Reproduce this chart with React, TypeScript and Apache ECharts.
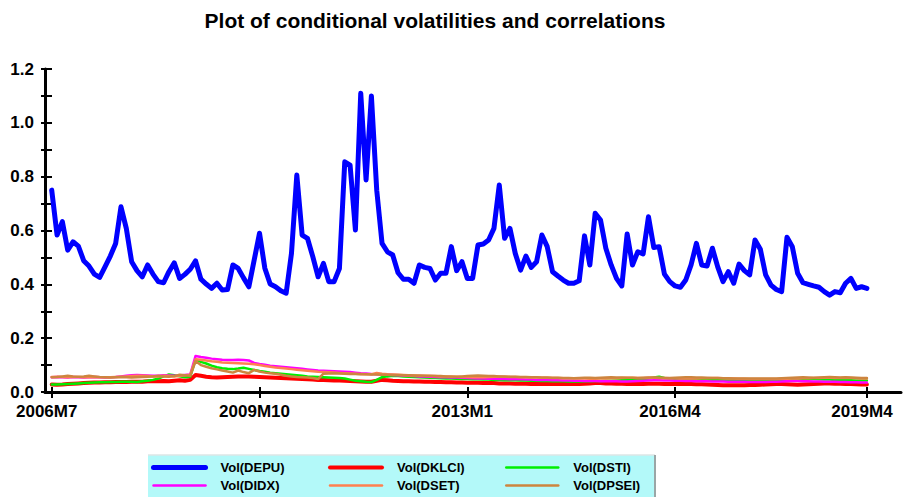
import React, { useEffect, useRef } from "react";
import * as echarts from "echarts";

// ---- data ----
const START_YEAR = 2006;
const START_MONTH = 7;
const months: string[] = [];
for (let k = 0; k < 160; k++) {
  const m = START_MONTH - 1 + k;
  months.push(`${START_YEAR + Math.floor(m / 12)}M${(m % 12) + 1}`);
}
const xTickIdx = [0, 39, 78, 117, 153];
const yTickValues = [0, 0.1, 0.2, 0.3, 0.4, 0.5, 0.6, 0.7, 0.8, 0.9, 1.0, 1.1, 1.2];
const yLabelValues = [0, 0.2, 0.4, 0.6, 0.8, 1.0, 1.2];

const seriesNames = ["Vol(DEPU)", "Vol(DKLCI)", "Vol(DSTI)", "Vol(DIDX)", "Vol(DSET)", "Vol(DPSEI)"];

const DEPU = [
  0.75, 0.583, 0.633, 0.527, 0.558, 0.542, 0.488, 0.468, 0.438, 0.426,
  0.465, 0.505, 0.552, 0.688, 0.608, 0.484, 0.451, 0.428, 0.472, 0.438,
  0.410, 0.406, 0.447, 0.480, 0.422, 0.437, 0.456, 0.487, 0.419, 0.401,
  0.385, 0.404, 0.379, 0.381, 0.472, 0.459, 0.424, 0.391, 0.49, 0.590,
  0.46, 0.401, 0.391, 0.376, 0.367, 0.515, 0.806, 0.583, 0.571, 0.503,
  0.428, 0.478, 0.410, 0.410, 0.459, 0.855, 0.843, 0.602, 1.110, 0.788,
  1.100, 0.750, 0.552, 0.521, 0.509, 0.443, 0.419, 0.419, 0.404, 0.472,
  0.463, 0.459, 0.416, 0.441, 0.441, 0.540, 0.451, 0.484, 0.422, 0.422,
  0.546, 0.550, 0.565, 0.608, 0.769, 0.571, 0.608, 0.515, 0.453, 0.505,
  0.463, 0.484, 0.583, 0.540, 0.447, 0.431, 0.416, 0.404, 0.404, 0.413,
  0.580, 0.472, 0.664, 0.639, 0.534, 0.472, 0.422, 0.394, 0.587, 0.472,
  0.521, 0.513, 0.651, 0.537, 0.540, 0.438, 0.410, 0.394, 0.389, 0.416,
  0.472, 0.552, 0.472, 0.468, 0.534, 0.465, 0.410, 0.447, 0.404, 0.475,
  0.451, 0.435, 0.565, 0.530, 0.435, 0.397, 0.381, 0.373, 0.575, 0.540,
  0.441, 0.406, 0.400, 0.394, 0.389, 0.373, 0.360, 0.373, 0.369, 0.404,
  0.422, 0.385, 0.391, 0.385,
];

const DKLCI = [
  0.028, 0.027, 0.028, 0.03, 0.031, 0.032, 0.033, 0.034, 0.035, 0.035,
  0.036, 0.036, 0.037, 0.037, 0.037, 0.038, 0.038, 0.038, 0.04, 0.04,
  0.04, 0.041, 0.04, 0.042, 0.044, 0.042, 0.045, 0.063, 0.06, 0.057,
  0.055, 0.054, 0.055, 0.056, 0.057, 0.058, 0.058, 0.058, 0.057, 0.056,
  0.055, 0.054, 0.053, 0.052, 0.051, 0.05, 0.049, 0.048, 0.047, 0.046,
  0.045, 0.045, 0.044, 0.043, 0.043, 0.042, 0.041, 0.04, 0.039, 0.038,
  0.038, 0.042, 0.045, 0.044, 0.042, 0.041, 0.04, 0.04, 0.039, 0.039,
  0.038, 0.038, 0.037, 0.037, 0.036, 0.036, 0.035, 0.035, 0.034, 0.034,
  0.034, 0.033, 0.033, 0.033, 0.032, 0.032, 0.032, 0.031, 0.031, 0.031,
  0.03, 0.03, 0.03, 0.03, 0.03, 0.03, 0.03, 0.03, 0.03, 0.03,
  0.031, 0.032, 0.033, 0.033, 0.032, 0.032, 0.031, 0.031, 0.03, 0.03,
  0.03, 0.03, 0.031, 0.031, 0.031, 0.03, 0.03, 0.03, 0.03, 0.03,
  0.03, 0.029, 0.029, 0.028, 0.027, 0.026, 0.025, 0.025, 0.025, 0.025,
  0.025, 0.026, 0.026, 0.027, 0.028, 0.029, 0.03, 0.03, 0.029, 0.028,
  0.027, 0.028, 0.029, 0.03, 0.031, 0.032, 0.032, 0.031, 0.031, 0.03,
  0.03, 0.029, 0.028, 0.028,
];

const DSTI = [
  0.028, 0.028, 0.029, 0.03, 0.031, 0.032, 0.033, 0.034, 0.035, 0.036,
  0.036, 0.037, 0.037, 0.038, 0.038, 0.038, 0.037, 0.04, 0.042, 0.045,
  0.05, 0.058, 0.065, 0.062, 0.058, 0.055, 0.057, 0.12, 0.112, 0.106,
  0.098, 0.092, 0.088, 0.086, 0.085, 0.087, 0.09, 0.086, 0.082, 0.078,
  0.075, 0.072, 0.07, 0.068, 0.066, 0.064, 0.062, 0.06, 0.058, 0.057,
  0.056, 0.055, 0.054, 0.053, 0.052, 0.05, 0.046, 0.042, 0.04, 0.038,
  0.037, 0.045, 0.055, 0.058, 0.06, 0.059, 0.058, 0.057, 0.056, 0.055,
  0.054, 0.053, 0.052, 0.051, 0.05, 0.05, 0.049, 0.048, 0.048, 0.047,
  0.047, 0.046, 0.046, 0.045, 0.045, 0.044, 0.044, 0.044, 0.043, 0.043,
  0.042, 0.042, 0.041, 0.041, 0.04, 0.04, 0.04, 0.039, 0.039, 0.039,
  0.04, 0.04, 0.041, 0.041, 0.042, 0.042, 0.043, 0.044, 0.044, 0.045,
  0.046, 0.048, 0.05, 0.054, 0.057, 0.052, 0.05, 0.049, 0.048, 0.047,
  0.047, 0.046, 0.046, 0.045, 0.045, 0.045, 0.044, 0.044, 0.044, 0.043,
  0.043, 0.043, 0.042, 0.042, 0.042, 0.042, 0.043, 0.043, 0.044, 0.045,
  0.046, 0.047, 0.048, 0.048, 0.047, 0.046, 0.046, 0.045, 0.045, 0.044,
  0.044, 0.043, 0.043, 0.043,
];

const DIDX = [
  0.055, 0.056, 0.055, 0.054, 0.056, 0.055, 0.054, 0.055, 0.056, 0.055,
  0.054, 0.055, 0.056, 0.058, 0.06, 0.062, 0.063, 0.062, 0.061, 0.06,
  0.06, 0.062, 0.061, 0.06, 0.061, 0.063, 0.065, 0.134, 0.13, 0.127,
  0.124, 0.122, 0.12, 0.119, 0.119, 0.12, 0.119, 0.117, 0.108, 0.104,
  0.101, 0.098, 0.096, 0.094, 0.092, 0.09, 0.088, 0.086, 0.084, 0.082,
  0.08, 0.079, 0.078, 0.077, 0.076, 0.075, 0.074, 0.072, 0.07, 0.069,
  0.067, 0.066, 0.065, 0.064, 0.063, 0.062, 0.061, 0.06, 0.059, 0.058,
  0.058, 0.057, 0.056, 0.055, 0.055, 0.054, 0.054, 0.053, 0.052, 0.051,
  0.05, 0.05, 0.049, 0.049, 0.048, 0.048, 0.047, 0.047, 0.047, 0.046,
  0.046, 0.045, 0.045, 0.045, 0.044, 0.044, 0.043, 0.043, 0.042, 0.042,
  0.041, 0.041, 0.041, 0.04, 0.04, 0.04, 0.04, 0.039, 0.039, 0.04,
  0.041, 0.042, 0.043, 0.044, 0.044, 0.043, 0.043, 0.042, 0.042, 0.041,
  0.041, 0.04, 0.04, 0.04, 0.039, 0.039, 0.039, 0.038, 0.038, 0.038,
  0.038, 0.037, 0.037, 0.037, 0.037, 0.038, 0.038, 0.039, 0.04, 0.041,
  0.041, 0.04, 0.04, 0.039, 0.039, 0.038, 0.038, 0.038, 0.037, 0.037,
  0.036, 0.036, 0.035, 0.035,
];

const DSET = [
  0.056, 0.057, 0.056, 0.055, 0.056, 0.056, 0.055, 0.055, 0.056, 0.055,
  0.055, 0.055, 0.056, 0.057, 0.058, 0.059, 0.06, 0.06, 0.059, 0.058,
  0.058, 0.06, 0.059, 0.058, 0.06, 0.062, 0.064, 0.122, 0.12, 0.117,
  0.114, 0.112, 0.11, 0.109, 0.108, 0.107, 0.106, 0.105, 0.103, 0.1,
  0.097, 0.094, 0.091, 0.089, 0.087, 0.085, 0.083, 0.081, 0.079, 0.077,
  0.075, 0.074, 0.073, 0.072, 0.071, 0.07, 0.069, 0.068, 0.067, 0.066,
  0.066, 0.071, 0.068, 0.066, 0.065, 0.064, 0.063, 0.062, 0.061, 0.06,
  0.06, 0.059, 0.059, 0.058, 0.058, 0.057, 0.057, 0.056, 0.056, 0.055,
  0.055, 0.055, 0.056, 0.057, 0.058, 0.057, 0.056, 0.056, 0.055, 0.055,
  0.054, 0.054, 0.053, 0.053, 0.052, 0.052, 0.051, 0.051, 0.05, 0.05,
  0.05, 0.049, 0.049, 0.05, 0.05, 0.051, 0.051, 0.052, 0.053, 0.053,
  0.052, 0.052, 0.053, 0.053, 0.052, 0.052, 0.051, 0.051, 0.05, 0.05,
  0.05, 0.05, 0.051, 0.051, 0.052, 0.052, 0.051, 0.05, 0.05, 0.049,
  0.049, 0.048, 0.048, 0.048, 0.048, 0.048, 0.048, 0.049, 0.049, 0.05,
  0.05, 0.051, 0.051, 0.052, 0.052, 0.053, 0.053, 0.052, 0.052, 0.053,
  0.052, 0.051, 0.05, 0.05,
];

const DPSEI = [
  0.055, 0.056, 0.058, 0.06, 0.058, 0.057, 0.058, 0.06, 0.058, 0.056,
  0.055, 0.054, 0.055, 0.056, 0.055, 0.054, 0.055, 0.056, 0.057, 0.058,
  0.06, 0.058, 0.057, 0.059, 0.064, 0.062, 0.06, 0.115, 0.1, 0.094,
  0.088, 0.084, 0.08, 0.076, 0.072, 0.08, 0.074, 0.07, 0.082, 0.076,
  0.072, 0.07, 0.068, 0.064, 0.06, 0.058, 0.056, 0.055, 0.054, 0.052,
  0.048, 0.068, 0.069, 0.07, 0.069, 0.068, 0.067, 0.067, 0.066, 0.066,
  0.065, 0.065, 0.064, 0.064, 0.063, 0.063, 0.062, 0.062, 0.061, 0.061,
  0.06, 0.06, 0.059, 0.059, 0.058, 0.058, 0.057, 0.058, 0.059, 0.06,
  0.061, 0.06, 0.059, 0.059, 0.058, 0.058, 0.057, 0.057, 0.056, 0.056,
  0.055, 0.055, 0.054, 0.054, 0.053, 0.053, 0.052, 0.052, 0.051, 0.052,
  0.053, 0.053, 0.052, 0.053, 0.054, 0.055, 0.054, 0.054, 0.053, 0.053,
  0.052, 0.053, 0.054, 0.054, 0.053, 0.052, 0.052, 0.053, 0.054, 0.055,
  0.055, 0.054, 0.054, 0.053, 0.052, 0.052, 0.051, 0.051, 0.05, 0.05,
  0.05, 0.05, 0.05, 0.05, 0.05, 0.05, 0.05, 0.051, 0.052, 0.053,
  0.054, 0.055, 0.054, 0.053, 0.054, 0.055, 0.056, 0.055, 0.054, 0.055,
  0.054, 0.053, 0.052, 0.052,
];

const seriesValues = [DEPU, DKLCI, DSTI, DIDX, DSET, DPSEI];
const seriesColors = ["#0000ff", "#ff0000", "#00ee00", "#ff00ff", "#ff8050", "#cd853f"];
const seriesWidths = [5, 4, 2.5, 2.5, 2.5, 2.5];
const legendWidths = [5, 4, 2.5, 2.5, 2.5, 2.5];

const FONT = "'Liberation Sans', Arial, Helvetica, sans-serif";

export default function App() {
  const ref = useRef<HTMLDivElement>(null);
  useEffect(() => {
    if (!ref.current) return;
    const chart = echarts.init(ref.current, null, { renderer: "svg" });

    const series = seriesNames.map((name, s) => ({
      name,
      type: "line",
      xAxisIndex: 0,
      yAxisIndex: 0,
      data: seriesValues[s].map((v, i) => [i, v]),
      symbol: "none",
      showSymbol: false,
      color: seriesColors[s],
      lineStyle: { color: seriesColors[s], width: seriesWidths[s], cap: "round", join: "round" },
      z: s === 0 ? 3 : 2,
    }));

    const legendText = {
      fontSize: 13,
      fontWeight: "bold",
      color: "#000",
      fontFamily: FONT,
      padding: [0, 0, 0, 10],
    };
    const legendCols = [
      { idx: [0, 3], left: 151 },
      { idx: [1, 4], left: 328 },
      { idx: [2, 5], left: 505 },
    ];

    const xAxisBase = {
      type: "value",
      min: -1.26,
      max: 159.4,
      gridIndex: 0,
      position: "bottom",
      splitLine: { show: false },
    };
    const yAxisBase = {
      type: "value",
      min: 0,
      max: 1.2,
      interval: 0.1,
      gridIndex: 0,
      position: "left",
      splitLine: { show: false },
    };

    chart.setOption({
      animation: false,
      backgroundColor: "#ffffff",
      textStyle: { fontFamily: FONT },
      title: {
        text: "Plot of conditional volatilities and correlations",
        left: 430,
        top: 5,
        textAlign: "center",
        textStyle: { fontSize: 21, fontWeight: "bold", color: "#000", fontFamily: FONT },
      },
      grid: { left: 45, right: 3, top: 69, bottom: 107, containLabel: false },
      xAxis: [
        {
          ...xAxisBase,
          axisLine: { show: true, onZero: false, lineStyle: { color: "#000", width: 3 } },
          axisTick: { show: true, customValues: xTickIdx, length: 6, lineStyle: { color: "#000", width: 2 } },
          axisLabel: {
            show: true,
            customValues: xTickIdx,
            formatter: (v: number) => months[Math.round(v)] ?? "",
            margin: 11,
            fontSize: 17,
            fontWeight: "bold",
            color: "#000",
            fontFamily: FONT,
            padding: [0, 10, 0, 0],
          },
        },
        {
          ...xAxisBase,
          axisLine: { show: false, onZero: false },
          axisTick: { show: true, inside: true, customValues: xTickIdx, length: 5, lineStyle: { color: "#000", width: 2 } },
          axisLabel: { show: false },
        },
      ],
      yAxis: [
        {
          ...yAxisBase,
          axisLine: { show: true, onZero: false, lineStyle: { color: "#000", width: 3 } },
          axisTick: { show: true, customValues: yTickValues, length: 4, lineStyle: { color: "#000", width: 2 } },
          axisLabel: {
            show: true,
            customValues: yLabelValues,
            formatter: (v: number) => v.toFixed(1),
            margin: 11,
            fontSize: 17,
            fontWeight: "bold",
            color: "#000",
            fontFamily: FONT,
          },
        },
        {
          ...yAxisBase,
          axisLine: { show: false, onZero: false },
          axisTick: { show: true, inside: true, customValues: yTickValues, length: 7, lineStyle: { color: "#000", width: 2 } },
          axisLabel: { show: false },
        },
      ],
      legend: legendCols.map((c) => ({
        data: c.idx.map((s) => ({
          name: seriesNames[s],
          lineStyle: { width: legendWidths[s], color: seriesColors[s], cap: "round" },
        })),
        orient: "vertical",
        left: c.left,
        top: 461,
        itemWidth: 52,
        itemHeight: 12,
        itemGap: 5,
        padding: 0,
        selectedMode: false,
        itemStyle: { opacity: 0, borderWidth: 0 },
        textStyle: legendText,
      })),
      graphic: [
        {
          type: "rect",
          shape: { x: 148, y: 455, width: 507, height: 42 },
          style: { fill: "#b3f9f9" },
          z: -10,
          silent: true,
        },
        {
          type: "line",
          shape: { x1: 148, y1: 455, x2: 655, y2: 455 },
          style: { stroke: "#dde6e6", lineWidth: 1.5 },
          z: -9,
          silent: true,
        },
        {
          type: "line",
          shape: { x1: 655, y1: 455, x2: 655, y2: 497 },
          style: { stroke: "#9aa6a6", lineWidth: 2 },
          z: -9,
          silent: true,
        },
      ],
      series,
    });

    return () => chart.dispose();
  }, []);

  return (
    <div
      ref={ref}
      style={{ position: "fixed", left: 0, top: 0, width: 904, height: 499, background: "#fff" }}
    />
  );
}
